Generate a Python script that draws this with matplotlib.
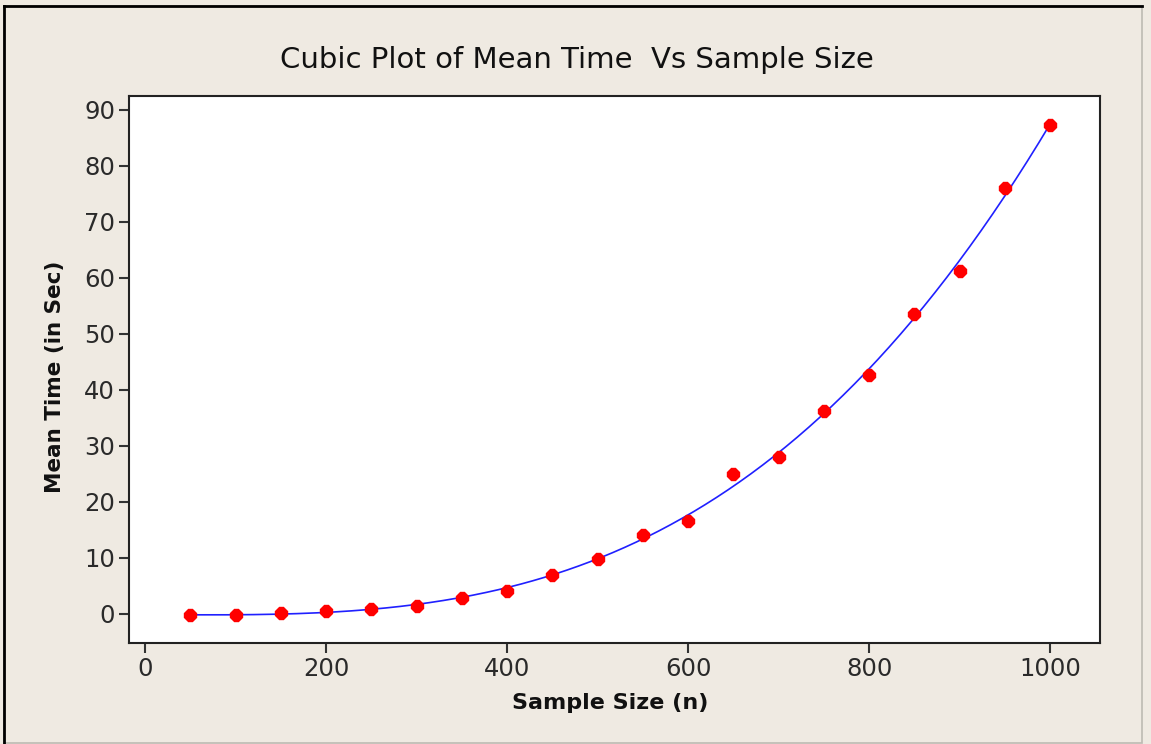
import numpy as np
import matplotlib
matplotlib.use("Agg")
import matplotlib.pyplot as plt
from matplotlib.patches import Rectangle

# Data
sample_size = [50, 100, 150, 200, 250, 300, 350, 400, 450, 500,
               550, 600, 650, 700, 750, 800, 850, 900, 950, 1000]
mean_time = [-0.2, -0.2, 0.1, 0.5, 0.9, 1.4, 2.9, 4.1, 7.0, 9.8,
             14.1, 16.6, 25.0, 28.0, 36.3, 42.7, 53.6, 61.3, 76.1, 87.4]
x_ticks = [0, 200, 400, 600, 800, 1000]
y_ticks = [0, 10, 20, 30, 40, 50, 60, 70, 80, 90]

title = "Cubic Plot of Mean Time  Vs Sample Size"
xlabel = "Sample Size (n)"
ylabel = "Mean Time (in Sec)"

bg = "#EFEAE2"
fig = plt.figure(figsize=(11.51, 7.44), dpi=100, facecolor=bg)

# outer frame
fig.patches.append(Rectangle((4/1151, 1/744), 1 - 13/1151, 1 - 7/744,
                             transform=fig.transFigure, fill=False,
                             edgecolor="#BDBAB3", linewidth=1.2, zorder=0))
fig.add_artist(plt.Line2D([4/1151, 4/1151], [0, 1 - 6/744], transform=fig.transFigure,
                          color="black", linewidth=2))
fig.add_artist(plt.Line2D([4/1151, 1 - 9/1151], [1 - 6/744, 1 - 6/744], transform=fig.transFigure,
                          color="black", linewidth=2))

ax = fig.add_axes([129/1151, 1 - 643/744, (1100 - 129)/1151, (643 - 96)/744])
ax.set_facecolor("white")

# cubic fit computed from data
coef = np.polyfit(sample_size, mean_time, 3)
xs = np.linspace(min(sample_size), max(sample_size), 300)
ax.plot(xs, np.polyval(coef, xs), color="#2020FF", linewidth=1.2, zorder=2)
ax.plot(sample_size, mean_time, linestyle="none", marker="8", markersize=9,
        color="#FF0000", markeredgecolor="#FF0000", zorder=3)

ax.set_xlim(-17.7, 1055)
ax.set_ylim(-5.2, 92.5)
ax.set_xticks(x_ticks)
ax.set_yticks(y_ticks)
ax.tick_params(direction="out", length=7, width=1.5, color="#333333",
               labelsize=17.5, labelcolor="#2A2A2A", pad=3)
for s in ax.spines.values():
    s.set_linewidth(1.5)
    s.set_color("#222222")

fig.text(577/1151, 1 - 60/744, title, ha="center", va="center", fontsize=21, color="#111111")
fig.text(610/1151, 1 - 703/744, xlabel, ha="center", va="center", fontsize=16,
         fontweight="bold", color="#111111")
fig.text(55/1151, 1 - 377/744, ylabel, ha="center", va="center", fontsize=15.5,
         fontweight="bold", color="#111111", rotation=90)

fig.savefig("out.png", dpi=100, facecolor=bg)
